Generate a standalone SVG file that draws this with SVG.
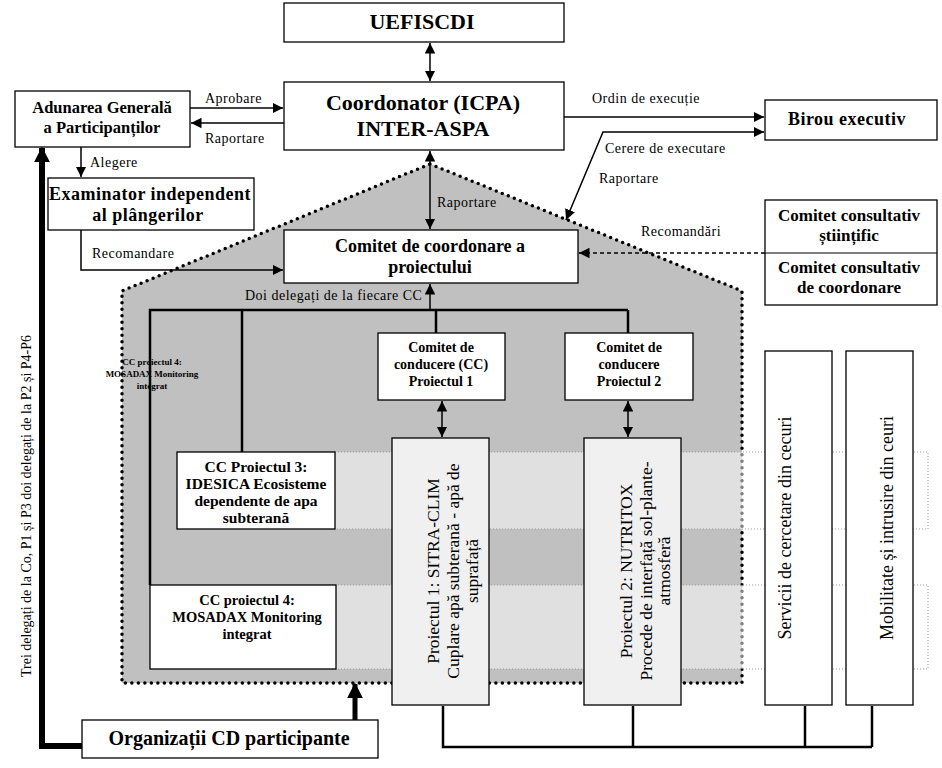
<svg xmlns="http://www.w3.org/2000/svg" width="942" height="768" viewBox="0 0 942 768">
<defs>
<style>
.box{fill:#fff;stroke:#000;stroke-width:1.3}
.b{font-family:"Liberation Serif",serif;font-weight:bold;text-anchor:middle;fill:#000}
.r{font-family:"Liberation Serif",serif;fill:#000}
.lb{font-family:"Liberation Serif",serif;fill:#000;font-size:14px;letter-spacing:0.5px}
.ln{stroke:#000;stroke-width:1.5;fill:none}
.lt{stroke:#000;stroke-width:2.5;fill:none}
.band{fill:#fff;fill-opacity:0.5;stroke:#999;stroke-width:1;stroke-dasharray:1 2}
.proj{fill:#f0f0f0;stroke:#000;stroke-width:1.3}
</style>
<marker id="ah" viewBox="0 0 10 10" refX="10" refY="5" markerWidth="7" markerHeight="7" orient="auto-start-reverse"><path d="M0,0 L10,5 L0,10 z" fill="#000"/></marker>
<marker id="ahB" viewBox="0 0 10 10" refX="9" refY="5" markerUnits="userSpaceOnUse" markerWidth="16" markerHeight="16" orient="auto"><path d="M0,0 L10,5 L0,10 z" fill="#000"/></marker>
</defs>
<rect width="942" height="768" fill="#fff"/>

<g id="region">
<path d="M430,164 L742,291 L742,683 L122,683 L122,291 Z" fill="#c0c0c0" stroke="#000" stroke-width="3.5" stroke-dasharray="0 6.5" stroke-linecap="round"/>
</g>

<g id="bands">
<rect class="band" x="323" y="452" width="605" height="77"/>
<rect class="band" x="323" y="585" width="605" height="84"/>
</g>

<g id="connectors">
<line class="ln" x1="430" y1="43" x2="430" y2="81" marker-start="url(#ah)" marker-end="url(#ah)"/>
<line class="ln" x1="190" y1="108" x2="283" y2="108" marker-end="url(#ah)"/>
<line class="ln" x1="284" y1="123" x2="191" y2="123" marker-end="url(#ah)"/>
<line class="ln" x1="81" y1="147" x2="81" y2="177" marker-end="url(#ah)"/>
<polyline class="ln" points="81,230 81,270 283,270" marker-end="url(#ah)"/>
<line class="ln" x1="430" y1="151" x2="430" y2="229" marker-start="url(#ah)" marker-end="url(#ah)"/>
<line class="ln" x1="564" y1="117" x2="764" y2="117" marker-end="url(#ah)"/>
<polyline class="ln" points="764,132 603,132 566,220" stroke-width="1.2" marker-start="url(#ah)" marker-end="url(#ah)"/>
<line class="ln" x1="765" y1="253" x2="579" y2="253" stroke-dasharray="4 3" marker-end="url(#ah)"/>
<line class="ln" x1="430" y1="310" x2="430" y2="284" stroke-width="2" marker-end="url(#ah)"/>
<polyline class="lt" points="150,585 150,310 628,310" stroke-width="2"/>
<line class="lt" x1="242" y1="310" x2="242" y2="452" stroke-width="2"/>
<line class="lt" x1="436" y1="310" x2="436" y2="333" stroke-width="2"/>
<line class="lt" x1="628" y1="310" x2="628" y2="333" stroke-width="2"/>
<line class="ln" x1="442" y1="401" x2="442" y2="437" stroke-width="2" marker-start="url(#ah)" marker-end="url(#ah)"/>
<line class="ln" x1="628" y1="401" x2="628" y2="437" stroke-width="2" marker-start="url(#ah)" marker-end="url(#ah)"/>
<polyline class="lt" points="443,706 443,747 872,747"/>
<line class="lt" x1="633" y1="706" x2="633" y2="747"/>
<line class="lt" x1="805" y1="706" x2="805" y2="747"/>
<line class="lt" x1="872" y1="706" x2="872" y2="747"/>
<line x1="355" y1="720" x2="355" y2="684" stroke="#000" stroke-width="5" marker-end="url(#ahB)"/>
<polyline points="82,746 42,746 42,148" fill="none" stroke="#000" stroke-width="6" marker-end="url(#ahB)"/>
</g>

<g id="labels">
<text class="lb" x="205" y="103">Aprobare</text>
<text class="lb" x="205" y="143">Raportare</text>
<text class="lb" x="90" y="167">Alegere</text>
<text class="lb" x="92" y="258">Recomandare</text>
<text class="lb" x="437" y="207">Raportare</text>
<text class="lb" x="592" y="103">Ordin de execuție</text>
<text class="lb" x="605" y="153">Cerere de executare</text>
<text class="lb" x="599" y="183">Raportare</text>
<text class="lb" x="641" y="236">Recomandări</text>
<text class="lb" x="245" y="300">Doi delegați de la fiecare CC</text>
<text class="b" font-size="9"><tspan x="152" y="365">CC proiectul 4:</tspan><tspan x="152" y="377">MOSADAX Monitoring</tspan><tspan x="152" y="389">integrat</tspan></text>
<text class="r" font-size="14" text-anchor="middle" transform="translate(31,506) rotate(-90)">Trei delegați de la Co, P1 și P3 doi delegați de la P2 și P4-P6</text>
</g>

<g id="uefiscdi"><rect class="box" x="284" y="3" width="280" height="39"/><text class="b" x="422" y="29" font-size="22">UEFISCDI</text></g>
<g id="coordonator"><rect class="box" x="284" y="82" width="280" height="68"/><text class="b" font-size="22"><tspan x="423" y="110">Coordonator  (ICPA)</tspan><tspan x="423" y="136">INTER-ASPA</tspan></text></g>
<g id="adunarea"><rect class="box" x="15" y="91" width="175" height="56"/><text class="b" font-size="16.5"><tspan x="102" y="113">Adunarea Generală</tspan><tspan x="102" y="133">a Participanților</tspan></text></g>
<g id="examinator"><rect class="box" x="48" y="178" width="206" height="52"/><text class="b" font-size="18" letter-spacing="0.5"><tspan x="150" y="200">Examinator independent</tspan><tspan x="148" y="221">al plângerilor</tspan></text></g>
<g id="comitet-coord"><rect class="box" x="284" y="230" width="294" height="53"/><text class="b" font-size="18"><tspan x="430" y="252">Comitet de coordonare a</tspan><tspan x="430" y="273">proiectului</tspan></text></g>
<g id="birou"><rect class="box" x="765" y="100" width="172" height="40"/><text class="b" x="847" y="125" font-size="18" letter-spacing="0.5">Birou executiv</text></g>
<g id="consultativ"><rect class="box" x="765" y="200" width="172" height="105"/><line x1="765" y1="253" x2="937" y2="253" stroke="#000" stroke-width="1.2"/><text class="b" font-size="17"><tspan x="849" y="221">Comitet consultativ</tspan><tspan x="849" y="241">științific</tspan><tspan x="849" y="273">Comitet consultativ</tspan><tspan x="849" y="293">de coordonare</tspan></text></g>
<g id="cc1"><rect class="box" x="378" y="333" width="127" height="67"/><text class="b" font-size="14"><tspan x="441" y="352">Comitet de</tspan><tspan x="441" y="369">conducere (CC)</tspan><tspan x="441" y="386">Proiectul 1</tspan></text></g>
<g id="cc2"><rect class="box" x="565" y="333" width="128" height="67"/><text class="b" font-size="14"><tspan x="629" y="352">Comitet de</tspan><tspan x="629" y="369">conducere</tspan><tspan x="629" y="386">Proiectul 2</tspan></text></g>
<g id="cc3"><rect class="box" x="177" y="452" width="158" height="77"/><text class="b" font-size="15.5"><tspan x="256" y="472">CC Proiectul 3:</tspan><tspan x="256" y="489">IDESICA Ecosisteme</tspan><tspan x="256" y="506">dependente de apa</tspan><tspan x="256" y="523">subterană</tspan></text></g>
<g id="cc4"><rect class="box" x="150" y="585" width="186" height="84"/><text class="b" font-size="14.5"><tspan x="247" y="605">CC proiectul 4:</tspan><tspan x="247" y="622">MOSADAX Monitoring</tspan><tspan x="247" y="639">integrat</tspan></text></g>
<g id="proiect1"><rect class="proj" x="392" y="438" width="97" height="267"/><text class="r" font-size="17.5" text-anchor="middle" transform="translate(459,571) rotate(-90)"><tspan x="0" y="-20">Proiectul 1: SITRA-CLIM</tspan><tspan x="0" y="0">Cuplare apă subterană - apă de</tspan><tspan x="0" y="19">suprafață</tspan></text></g>
<g id="proiect2"><rect class="proj" x="584" y="438" width="97" height="267"/><text class="r" font-size="17.5" text-anchor="middle" transform="translate(652,571) rotate(-90)"><tspan x="0" y="-20">Proiectul 2: NUTRITOX</tspan><tspan x="0" y="0">Procede de interfață sol-plante-</tspan><tspan x="0" y="18">atmosferă</tspan></text></g>
<g id="servicii"><rect class="box" x="765" y="351" width="67" height="354"/><text class="r" font-size="18" text-anchor="middle" transform="translate(791,528) rotate(-90)">Servicii de cercetare din cecuri</text></g>
<g id="mobilitate"><rect class="box" x="846" y="351" width="67" height="354"/><text class="r" font-size="18" text-anchor="middle" transform="translate(893,528) rotate(-90)">Mobilitate și intrusire din ceuri</text></g>
<g id="organizatii"><rect class="box" x="82" y="720" width="296" height="38"/><text class="b" x="229" y="745" font-size="20">Organizații  CD participante</text></g>
</svg>
